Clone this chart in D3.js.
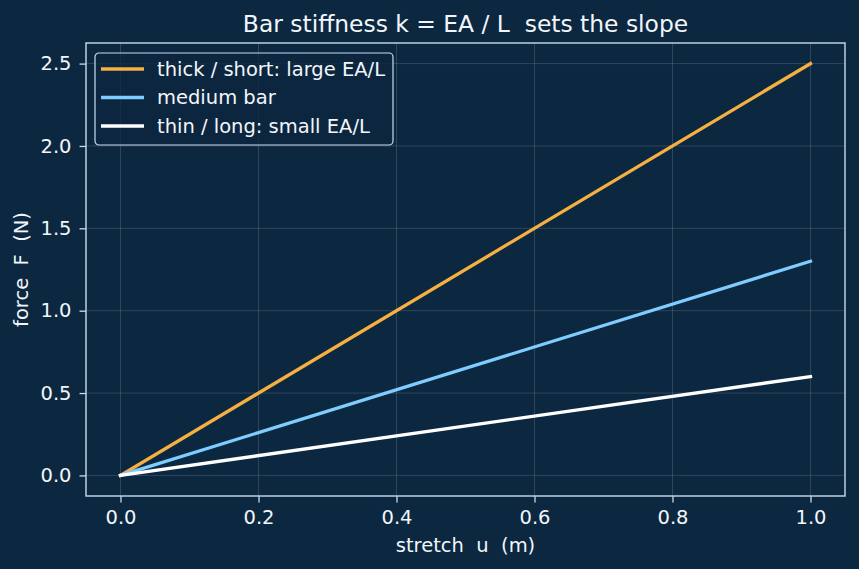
<!DOCTYPE html>
<html>
<head>
<meta charset="UTF-8">
<title>Bar stiffness</title>
<script src="https://d3js.org/d3.v7.min.js"></script>
<style>
  body { margin: 0; background: #0c2740; }
  svg text { font-family: "DejaVu Sans", sans-serif; fill: #f2f6fa; }
</style>
</head>
<body>
<svg id="chart" width="859" height="569"></svg>
<script>
// data
const stretch = [0, 1.0];
const forceThick = [0, 2.5];
const forceMedium = [0, 1.3];
const forceThin = [0, 0.6];
const seriesNames = ["thick / short: large EA/L", "medium bar", "thin / long: small EA/L"];
const seriesColors = ["#f5b041", "#7fccff", "#ffffff"];
const xTicks = [0.0, 0.2, 0.4, 0.6, 0.8, 1.0];
const yTicks = [0.0, 0.5, 1.0, 1.5, 2.0, 2.5];

let svg = d3.select("svg#chart");
let width = +svg.attr("width");
let height = +svg.attr("height");
let margin = { top: 43, right: 14, bottom: 73, left: 86 };
let chartWidth = width - margin.left - margin.right;
let chartHeight = height - margin.top - margin.bottom;

svg.append("rect").attr("width", width).attr("height", height).attr("fill", "#0c2740");

const xScale = d3.scaleLinear().domain([-0.05, 1.05]).range([0, chartWidth]);
const yScale = d3.scaleLinear().domain([-0.125, 2.625]).range([chartHeight, 0]);

let chart = svg.append("g").attr("transform", `translate(${margin.left},${margin.top})`);

// gridlines
chart.append("g").attr("class", "grid")
  .selectAll("line.gx").data(xTicks).join("line")
  .attr("x1", d => xScale(d)).attr("x2", d => xScale(d))
  .attr("y1", 0).attr("y2", chartHeight)
  .attr("stroke", "#ffffff").attr("stroke-opacity", 0.18).attr("stroke-width", 0.8);
chart.append("g").attr("class", "grid")
  .selectAll("line.gy").data(yTicks).join("line")
  .attr("y1", d => yScale(d)).attr("y2", d => yScale(d))
  .attr("x1", 0).attr("x2", chartWidth)
  .attr("stroke", "#ffffff").attr("stroke-opacity", 0.18).attr("stroke-width", 0.8);

// axes
let bottomAxis = d3.axisBottom(xScale).tickValues(xTicks).tickFormat(d3.format(".1f")).tickSize(6.5).tickPadding(8);
let leftAxis = d3.axisLeft(yScale).tickValues(yTicks).tickFormat(d3.format(".1f")).tickSize(6.5).tickPadding(8);

let gx = chart.append("g").attr("transform", `translate(0,${chartHeight})`).call(bottomAxis);
let gy = chart.append("g").call(leftAxis);
[gx, gy].forEach(g => {
  g.select(".domain").remove();
  g.selectAll(".tick line").attr("stroke", "#c8dcee").attr("stroke-width", 1.3);
  g.selectAll(".tick text").attr("fill", "#f2f6fa").style("font-size", "19.5px")
    .style("font-family", "DejaVu Sans, sans-serif");
});

// frame
chart.append("rect").attr("x", 0).attr("y", 0).attr("width", chartWidth).attr("height", chartHeight)
  .attr("fill", "none").attr("stroke", "#c8dcee").attr("stroke-width", 1.4);

// lines
const allSeries = [forceThick, forceMedium, forceThin];
const line = d3.line().x(d => xScale(d[0])).y(d => yScale(d[1]));
allSeries.forEach((vals, i) => {
  chart.append("path")
    .datum(stretch.map((u, j) => [u, vals[j]]))
    .attr("d", line)
    .attr("fill", "none")
    .attr("stroke", seriesColors[i])
    .attr("stroke-width", 3.3)
    .attr("stroke-linecap", "square");
});

// legend
let legend = chart.append("g").attr("transform", "translate(9,10)");
legend.append("rect").attr("x", 0).attr("y", 0).attr("width", 298).attr("height", 92)
  .attr("rx", 4).attr("fill", "#0c2740").attr("fill-opacity", 0.8)
  .attr("stroke", "#c8dcee").attr("stroke-width", 1.2);
seriesNames.forEach((name, i) => {
  let yy = 16 + i * 28.5;
  legend.append("line").attr("x1", 6).attr("x2", 49).attr("y1", yy).attr("y2", yy)
    .attr("stroke", seriesColors[i]).attr("stroke-width", 3.3);
  legend.append("text").attr("x", 62).attr("y", yy).attr("dy", "0.35em")
    .style("font-size", "19.5px").text(name);
});

// title and labels
svg.append("text").attr("x", margin.left + chartWidth / 2).attr("y", 32)
  .attr("text-anchor", "middle").style("font-size", "23.4px")
  .text("Bar stiffness k = EA / L\u00a0 sets the slope");
svg.append("text").attr("x", margin.left + chartWidth / 2).attr("y", 552)
  .attr("text-anchor", "middle").style("font-size", "19.5px")
  .text("stretch\u00a0 u\u00a0 (m)");
svg.append("text").attr("transform", `translate(28,${margin.top + chartHeight / 2}) rotate(-90)`)
  .attr("text-anchor", "middle").style("font-size", "19.5px")
  .text("force\u00a0 F\u00a0 (N)");
</script>
</body>
</html>
